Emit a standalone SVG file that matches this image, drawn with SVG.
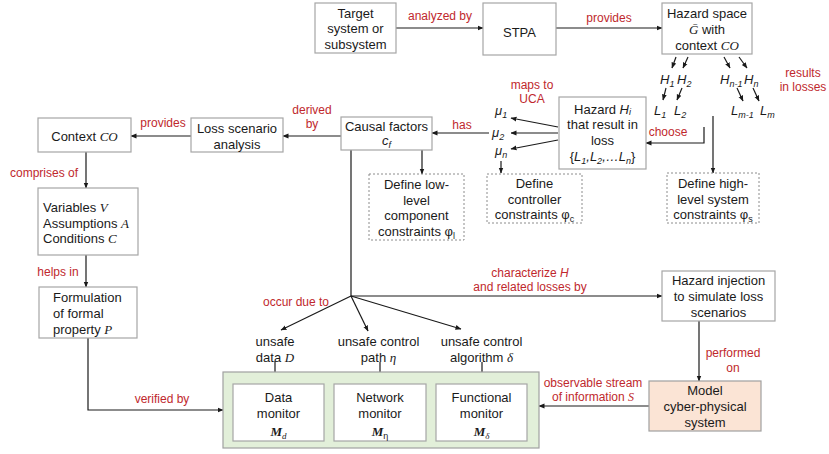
<svg xmlns="http://www.w3.org/2000/svg" width="829" height="454" viewBox="0 0 829 454">
<defs>
<marker id="ah" markerWidth="6" markerHeight="6" refX="5.5" refY="3" orient="auto" markerUnits="userSpaceOnUse">
<path d="M0,0.6 L6,3 L0,5.4 z" fill="#1a1a1a"/>
</marker>
</defs>
<style>
.box{fill:#fff;stroke:#a6a6a6;stroke-width:1.2}
.dash{fill:#fff;stroke:#8c8c8c;stroke-width:1;stroke-dasharray:2,2}
.t{font-family:"Liberation Sans",Arial,sans-serif;font-size:13px;fill:#1a1a1a;text-anchor:middle}
.l{text-anchor:start}
.r{font-family:"Liberation Sans",Arial,sans-serif;font-size:12px;fill:#c0282d;text-anchor:middle}
.i{font-style:italic}
.s{font-family:"Liberation Serif",serif;font-style:italic}
.sub{font-size:9px}
.ln{fill:none;stroke:#1a1a1a;stroke-width:1.2}
.ar{fill:none;stroke:#1a1a1a;stroke-width:1.2;marker-end:url(#ah)}
</style>
<rect width="829" height="454" fill="#fff"/>

<g id="connectors">
<line class="ar" x1="396" y1="28" x2="483" y2="28"/>
<line class="ar" x1="556" y1="28" x2="662" y2="28"/>
<line class="ar" x1="676" y1="57" x2="672" y2="68"/>
<line class="ar" x1="688" y1="57" x2="683" y2="68"/>
<line class="ar" x1="724" y1="57" x2="730" y2="68"/>
<line class="ar" x1="739" y1="57" x2="747" y2="68"/>
<line class="ar" x1="666" y1="88" x2="663" y2="100"/>
<line class="ar" x1="682" y1="88" x2="677" y2="100"/>
<line class="ar" x1="737" y1="88" x2="743" y2="101"/>
<line class="ar" x1="753" y1="88" x2="759" y2="101"/>
<polyline class="ar" points="704,127 704,143 646,143"/>
<line class="ar" x1="713" y1="116" x2="713" y2="173"/>
<line class="ar" x1="558" y1="127" x2="511" y2="118"/>
<line class="ar" x1="558" y1="133" x2="511" y2="133"/>
<line class="ar" x1="558" y1="140" x2="511" y2="149"/>
<line class="ar" x1="501" y1="161" x2="501" y2="173"/>
<line class="ar" x1="489" y1="133" x2="432" y2="133"/>
<line class="ar" x1="422" y1="150" x2="422" y2="174"/>
<line class="ar" x1="341" y1="136" x2="283" y2="136"/>
<line class="ar" x1="191" y1="136" x2="131" y2="136"/>
<line class="ar" x1="86" y1="152" x2="86" y2="188"/>
<line class="ar" x1="86" y1="255" x2="86" y2="287"/>
<polyline class="ar" points="88,338 88,410 223,410"/>
<line class="ln" x1="351" y1="150" x2="351" y2="296"/>
<line class="ar" x1="351" y1="296" x2="281" y2="330"/>
<line class="ar" x1="351" y1="296" x2="368" y2="331"/>
<line class="ar" x1="351" y1="296" x2="461" y2="329"/>
<line class="ar" x1="351" y1="296" x2="662" y2="296"/>
<line class="ar" x1="275" y1="361" x2="275" y2="381"/>
<line class="ar" x1="380" y1="362" x2="380" y2="381"/>
<line class="ar" x1="482" y1="362" x2="482" y2="381"/>
<line class="ar" x1="699" y1="321" x2="699" y2="381"/>
<line class="ar" x1="649" y1="406" x2="539" y2="406"/>
</g>

<g id="edge-labels">
<text class="r" x="440" y="20">analyzed by</text>
<text class="r" x="609" y="22">provides</text>
<text class="r" x="803" y="77">results</text>
<text class="r" x="803" y="91">in losses</text>
<text class="r" x="532" y="89">maps to</text>
<text class="r" x="532" y="103">UCA</text>
<text class="r" x="668" y="136">choose</text>
<text class="r" x="462" y="129">has</text>
<text class="r" x="312" y="114">derived</text>
<text class="r" x="312" y="128">by</text>
<text class="r" x="163" y="127">provides</text>
<text class="r" x="44" y="177">comprises of</text>
<text class="r" x="58" y="276">helps in</text>
<text class="r" x="162" y="403">verified by</text>
<text class="r" x="296" y="306">occur due to</text>
<text class="r" x="530" y="277">characterize <tspan class="i">H</tspan></text>
<text class="r" x="530" y="291">and related losses by</text>
<text class="r" x="733" y="357">performed</text>
<text class="r" x="733" y="372">on</text>
<text class="r" x="593" y="387">observable stream</text>
<text class="r" x="593" y="401">of information <tspan class="s">S</tspan></text>
</g>

<g id="target">
<rect class="box" x="315" y="3" width="81" height="50"/>
<text class="t" x="355.5" y="17.5">Target</text>
<text class="t" x="355.5" y="33">system or</text>
<text class="t" x="355.5" y="48.5">subsystem</text>
</g>

<g id="stpa">
<rect class="box" x="483" y="3" width="73" height="52"/>
<text class="t" x="519.5" y="37">STPA</text>
</g>

<g id="hazard-space">
<rect class="box" x="662" y="3" width="90" height="51"/>
<text class="t" x="707" y="18">Hazard space</text>
<text class="t" x="707" y="34"><tspan class="s">Ḡ</tspan> with</text>
<text class="t" x="707" y="50">context <tspan class="s">CO</tspan></text>
</g>

<g id="hazards">
<text class="t l i" x="660" y="84" font-size="13.5">H<tspan class="sub" dy="3">1</tspan></text>
<text class="t l i" x="677" y="84" font-size="13.5">H<tspan class="sub" dy="3">2</tspan></text>
<text class="t l i" x="720" y="84" font-size="13.5">H<tspan class="sub" dy="3">n-1</tspan></text>
<text class="t l i" x="744" y="84" font-size="13.5">H<tspan class="sub" dy="3">n</tspan></text>
<text class="t l i" x="654" y="115" font-size="13.5">L<tspan class="sub" dy="3">1</tspan></text>
<text class="t l i" x="674" y="115" font-size="13.5">L<tspan class="sub" dy="3">2</tspan></text>
<text class="t l i" x="731" y="115" font-size="13.5">L<tspan class="sub" dy="3">m-1</tspan></text>
<text class="t l i" x="760" y="115" font-size="13.5">L<tspan class="sub" dy="3">m</tspan></text>
</g>

<g id="hazard-hi">
<rect class="box" x="559" y="97" width="87" height="72"/>
<text class="t" x="602.5" y="113.5">Hazard <tspan class="i">H<tspan class="sub" dy="1.5">i</tspan></tspan></text>
<text class="t" x="602.5" y="129">that result in</text>
<text class="t" x="602.5" y="145">loss</text>
<text class="t" x="602.5" y="161">{<tspan class="i">L<tspan class="sub" dy="3">1</tspan><tspan dy="-3">,L</tspan><tspan class="sub" dy="3">2</tspan><tspan dy="-3">,…L</tspan><tspan class="sub" dy="3">n</tspan></tspan><tspan dy="-3">}</tspan></text>
</g>

<g id="mu">
<text class="t l i" x="495" y="115">μ<tspan class="sub" dy="3">1</tspan></text>
<text class="t l i" x="492" y="137">μ<tspan class="sub" dy="3">2</tspan></text>
<text class="t l i" x="495" y="155">μ<tspan class="sub" dy="3">n</tspan></text>
</g>

<g id="controller-constraints">
<rect class="dash" x="487" y="174" width="95" height="49"/>
<text class="t" x="534.5" y="187.5">Define</text>
<text class="t" x="534.5" y="203.5">controller</text>
<text class="t" x="534.5" y="219">constraints φ<tspan class="sub" dy="3">c</tspan></text>
</g>

<g id="system-constraints">
<rect class="dash" x="667" y="173" width="92" height="50"/>
<text class="t" x="713" y="187.5">Define high-</text>
<text class="t" x="713" y="203.5">level system</text>
<text class="t" x="713" y="218.5">constraints φ<tspan class="sub" dy="3">s</tspan></text>
</g>

<g id="causal-factors">
<rect class="box" x="341" y="117" width="91" height="33"/>
<text class="t" x="386.5" y="130.5">Causal factors</text>
<text class="t i" x="386.5" y="145">c<tspan class="sub" dy="3">f</tspan></text>
</g>

<g id="low-level-constraints">
<rect class="dash" x="369" y="174" width="95" height="66"/>
<text class="t" x="416.5" y="188.5">Define low-</text>
<text class="t" x="416.5" y="204.5">level</text>
<text class="t" x="416.5" y="220" font-size="12.5">component</text>
<text class="t" x="416.5" y="235.5">constraints φ<tspan class="sub" dy="3">l</tspan></text>
</g>

<g id="loss-scenario">
<rect class="box" x="191" y="118" width="92" height="34"/>
<text class="t" x="237" y="132.5">Loss scenario</text>
<text class="t" x="237" y="148.5">analysis</text>
</g>

<g id="context">
<rect class="box" x="38" y="118" width="93" height="34"/>
<text class="t" x="84.5" y="140.5">Context <tspan class="s">CO</tspan></text>
</g>

<g id="variables">
<rect class="box" x="38" y="188" width="100" height="67"/>
<text class="t l" x="43" y="212">Variables <tspan class="s">V</tspan></text>
<text class="t l" x="43" y="227.5">Assumptions <tspan class="s">A</tspan></text>
<text class="t l" x="43" y="243">Conditions <tspan class="s">C</tspan></text>
</g>

<g id="formulation">
<rect class="box" x="39" y="287" width="98" height="51"/>
<text class="t l" x="53" y="302">Formulation</text>
<text class="t l" x="53" y="318">of formal</text>
<text class="t l" x="53" y="334">property <tspan class="s">P</tspan></text>
</g>

<g id="unsafe-data">
<text class="t" x="275" y="345.5">unsafe</text>
<text class="t" x="275" y="362">data <tspan class="s">D</tspan></text>
</g>
<g id="unsafe-path">
<text class="t" x="378.5" y="345.5">unsafe control</text>
<text class="t" x="378.5" y="362">path <tspan class="s">η</tspan></text>
</g>
<g id="unsafe-algorithm">
<text class="t" x="481.5" y="345.5">unsafe control</text>
<text class="t" x="481.5" y="362">algorithm <tspan class="s">δ</tspan></text>
</g>

<g id="monitors">
<rect x="223" y="372" width="316" height="76" fill="#e2efd9" stroke="#a0a0a0" stroke-width="1.2"/>
</g>
<g id="data-monitor">
<rect class="box" x="233" y="384" width="91" height="57"/>
<text class="t" x="278.5" y="401.5">Data</text>
<text class="t" x="278.5" y="417.5">monitor</text>
<text class="t" x="278.5" y="436"><tspan class="s" font-weight="bold">M</tspan><tspan class="s sub" dy="3">d</tspan></text>
</g>
<g id="network-monitor">
<rect class="box" x="334" y="384" width="92" height="57"/>
<text class="t" x="380" y="401.5">Network</text>
<text class="t" x="380" y="417.5">monitor</text>
<text class="t" x="380" y="436"><tspan class="s" font-weight="bold">M</tspan><tspan class="sub" dy="3">η</tspan></text>
</g>
<g id="functional-monitor">
<rect class="box" x="436" y="384" width="91" height="57"/>
<text class="t" x="481.5" y="401.5">Functional</text>
<text class="t" x="481.5" y="417.5">monitor</text>
<text class="t" x="481.5" y="436"><tspan class="s" font-weight="bold">M</tspan><tspan class="s sub" dy="3">δ</tspan></text>
</g>

<g id="hazard-injection">
<rect class="box" x="662" y="271" width="113" height="50"/>
<text class="t" x="718.5" y="285">Hazard injection</text>
<text class="t" x="718.5" y="301">to simulate loss</text>
<text class="t" x="718.5" y="317">scenarios</text>
</g>

<g id="model-cps">
<rect x="649" y="381" width="112" height="50" fill="#fbe4d5" stroke="#a0a0a0" stroke-width="1.2"/>
<text class="t" x="705" y="394.5">Model</text>
<text class="t" x="705" y="411">cyber-physical</text>
<text class="t" x="705" y="427">system</text>
</g>
</svg>
